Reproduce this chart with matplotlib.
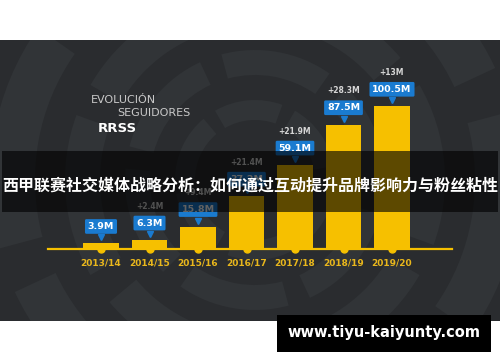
import numpy as np
import matplotlib
matplotlib.use("Agg")
import matplotlib.pyplot as plt
from matplotlib.patches import Rectangle, Wedge
from matplotlib.transforms import offset_copy

# --- chart data ---
seasons = ["2013/14", "2014/15", "2015/16", "2016/17", "2017/18", "2018/19", "2019/20"]
followers = [3.9, 6.3, 15.8, 37.2, 59.1, 87.5, 100.5]
value_labels = ["3.9M", "6.3M", "15.8M", "37.2M", "59.1M", "87.5M", "100.5M"]
growth_labels = ["", "+2.4M", "+9.4M", "+21.4M", "+21.9M", "+28.3M", "+13M"]

banner_text = "西甲联赛社交媒体战略分析：如何通过互动提升品牌影响力与粉丝粘性"
site_text = "www.tiyu-kaiyunty.com"

BG = "#2a2c2f"
RING = "#313437"
YELLOW = "#f6c000"
YEAR_YELLOW = "#e9b71c"
BLUE = "#1a7bd0"

W, H = 500, 362
fig = plt.figure(figsize=(W / 100, H / 100), dpi=100)
fig.patch.set_facecolor("white")

# background layer in pixel coordinates (origin top-left)
bg = fig.add_axes([0, 0, 1, 1], zorder=0)
bg.set_xlim(0, W)
bg.set_ylim(H, 0)
bg.axis("off")
bg.add_patch(Rectangle((0, 40), W, 281, fc=BG, ec="none"))

# segmented concentric rings, decoration only
cx, cy = 255, 180
bands = [(60, 80), (105, 130), (155, 190), (220, 265), (295, 350), (385, 440)]
for k, (r0, r1) in enumerate(bands):
    start = 15 * k
    for a in range(0, 360, 60):
        bg.add_patch(Wedge((cx, cy), r1, start + a, start + a + 50,
                           width=r1 - r0, fc=RING, ec="none"))
# white margins above and below the dark picture
bg.add_patch(Rectangle((0, 0), W, 40, fc="white", ec="none"))
bg.add_patch(Rectangle((0, 321), W, H - 321, fc="white", ec="none"))

# titles
bg.text(91, 100, "EVOLUCIÓN", color="#c9c9c9", fontsize=8, va="center", ha="left")
bg.text(117, 113, "SEGUIDORES", color="#c9c9c9", fontsize=8, va="center", ha="left")
bg.text(98, 128, "RRSS", color="white", fontsize=9.5, fontweight="bold",
        va="center", ha="left")

# bar chart axes: baseline at y=249px, 1.42 px per million
px_per_m = 1.42
x0 = 101
step = 48.5
ax = fig.add_axes([48 / W, (H - 249) / H, 404 / W, 209 / H], zorder=1)
ax.patch.set_alpha(0)
ax.set_xlim(-(x0 - 48) / step, (452 - x0) / step)
ax.set_ylim(0, 209 / px_per_m)
for s in ax.spines.values():
    s.set_visible(False)
ax.set_yticks([])

x = np.arange(len(seasons))
ax.bar(x, followers, width=0.74, color=YELLOW, zorder=2)
ax.axhline(0, color=YELLOW, lw=1.6, clip_on=False, zorder=3)
ax.plot(x, np.zeros(len(x)), "o", ms=5, color=YELLOW, clip_on=False, zorder=3)

ax.set_xticks(x)
ax.set_xticklabels(seasons, color=YEAR_YELLOW, fontsize=6.5, fontweight="bold")
ax.tick_params(axis="x", length=0, pad=7)

tri = offset_copy(ax.transData, fig=fig, x=0, y=6, units="dots")
for i, v in enumerate(followers):
    ax.annotate(value_labels[i], (i, v), xytext=(0, 17), textcoords="offset pixels",
                ha="center", va="center", color="white", fontsize=6.8,
                fontweight="bold", zorder=4, annotation_clip=False,
                bbox=dict(boxstyle="round,pad=0.3,rounding_size=0.15",
                          fc=BLUE, ec="none"))
    ax.plot(i, v, marker="v", ms=5, color=BLUE, transform=tri, clip_on=False,
            zorder=4)
    if growth_labels[i]:
        ax.annotate(growth_labels[i], (i, v), xytext=(0, 34),
                    textcoords="offset pixels", ha="center", va="center",
                    color="#d6d6d6", fontsize=5.5, fontweight="bold",
                    annotation_clip=False, zorder=4)

# overlay: banner and site tag
top = fig.add_axes([0, 0, 1, 1], zorder=5)
top.set_xlim(0, W)
top.set_ylim(H, 0)
top.axis("off")
top.patch.set_alpha(0)
top.add_patch(Rectangle((2, 151), 496, 61, fc="black", ec="none", alpha=0.62))
top.text(250, 186, banner_text, color="white", fontsize=11.5, fontweight="bold",
         family=["Noto Sans CJK SC", "DejaVu Sans"], ha="center", va="center")
top.add_patch(Rectangle((277, 315), 214, 37, fc="black", ec="none"))
top.text(384, 333, site_text, color="white", fontsize=10.5, fontweight="bold",
         ha="center", va="center")

fig.savefig("out.png", dpi=100)
